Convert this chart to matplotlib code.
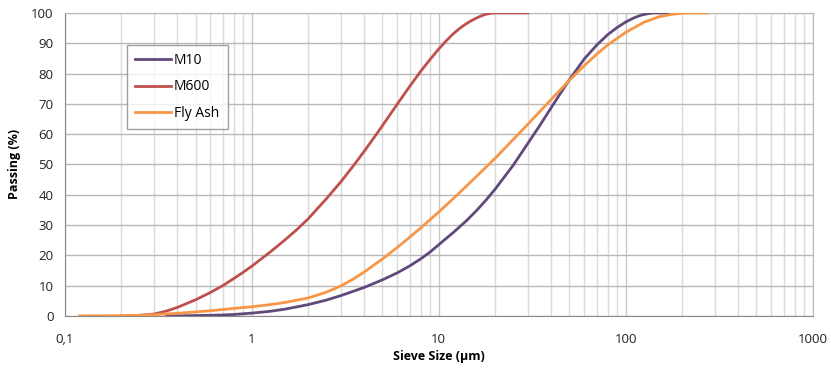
import matplotlib
matplotlib.use('Agg')
import matplotlib.pyplot as plt
from matplotlib.ticker import FixedLocator, LogLocator, NullFormatter

plt.rcParams['font.family'] = ['Open Sans', 'DejaVu Sans']

# Particle size distributions
m10_size = [0.35, 0.4, 0.5, 0.6, 0.7, 0.8, 1, 1.25, 1.5, 2, 2.5, 3, 4, 5, 6, 7, 8, 9, 10, 12, 14, 16, 18, 20,
            25, 30, 35, 40, 45, 50, 60, 70, 80, 90, 100, 110, 120, 130, 140, 175]
m10_pass = [0, 0.02, 0.1, 0.2, 0.3, 0.45, 0.9, 1.5, 2.2, 3.7, 5.2, 6.7, 9.4, 11.9, 14.2, 16.5, 18.8, 21.1, 23.5,
            27.6, 31.3, 34.9, 38.4, 41.8, 49.7, 57.0, 63.2, 68.8, 73.7, 78.0, 84.8, 89.4, 92.8, 95.2, 97.0,
            98.3, 99.2, 99.7, 100, 100]

m600_size = [0.2, 0.25, 0.3, 0.35, 0.4, 0.5, 0.6, 0.7, 0.8, 0.9, 1, 1.25, 1.5, 1.75, 2, 2.5, 3, 3.5, 4, 4.5, 5,
             6, 7, 8, 9, 10, 11, 12, 13, 14, 15, 16, 17, 18, 19, 20, 25, 30]
m600_pass = [0, 0.15, 0.6, 1.6, 2.8, 5.3, 7.7, 10.0, 12.3, 14.4, 16.4, 21.0, 25.0, 28.6, 32.0, 38.6, 44.3, 49.6,
             54.4, 58.8, 62.8, 69.9, 75.8, 80.7, 84.7, 88.1, 90.9, 93.2, 95.0, 96.4, 97.5, 98.4, 99.1, 99.6,
             99.9, 100, 100, 100]

ash_size = [0.12, 0.15, 0.2, 0.25, 0.3, 0.4, 0.5, 0.6, 0.7, 0.8, 1, 1.25, 1.5, 2, 2.5, 3, 3.5, 4, 5, 6, 7, 8,
            10, 12, 15, 20, 25, 30, 35, 40, 50, 60, 70, 80, 100, 125, 150, 175, 200, 230, 274]
ash_pass = [0, 0.02, 0.08, 0.2, 0.4, 0.85, 1.3, 1.7, 2.1, 2.45, 3.0, 3.7, 4.4, 5.9, 7.8, 9.9, 12.2, 14.5, 18.8,
            22.6, 26.0, 29.0, 34.3, 38.8, 44.5, 52.0, 58.2, 63.3, 67.7, 71.5, 77.8, 82.6, 86.4, 89.4, 93.6,
            96.9, 98.7, 99.5, 99.9, 100, 100]

x_ticks = [0.1, 1, 10, 100, 1000]
x_labels = ['0,1', '1', '10', '100', '1000']
y_ticks = list(range(0, 101, 10))

fig = plt.figure(figsize=(8.31, 3.69), dpi=100)
ax = fig.add_axes([0.078, 0.144, 0.9, 0.821])

ax.plot(m10_size, m10_pass, color='#60497B', lw=2.0, label='M10', zorder=3, solid_joinstyle='round')
ax.plot(m600_size, m600_pass, color='#C0504D', lw=2.0, label='M600', zorder=3, solid_joinstyle='round')
ax.plot(ash_size, ash_pass, color='#F79646', lw=2.0, label='Fly Ash', zorder=4, solid_joinstyle='round')

ax.set_xscale('log')
ax.set_xlim(0.1, 1000)
ax.set_ylim(0, 100)
ax.xaxis.set_major_locator(FixedLocator(x_ticks))
ax.set_xticklabels(x_labels)
ax.xaxis.set_minor_locator(LogLocator(base=10, subs=range(2, 10)))
ax.xaxis.set_minor_formatter(NullFormatter())
ax.set_yticks(y_ticks)

ax.grid(True, which='major', axis='y', color='#b8b8b8', lw=1.0)
ax.grid(True, which='major', axis='x', color='#c8c8c8', lw=1.0)
ax.grid(True, which='minor', axis='x', color='#dadada', lw=1.0)
ax.set_axisbelow(True)

for s in ax.spines.values():
    s.set_color('#b8b8b8')
ax.spines['left'].set_color('#888888')
ax.spines['bottom'].set_color('#888888')

ax.tick_params(which='both', length=0, labelsize=9.5, colors='#222222', pad=12)
ax.tick_params(axis='y', pad=8)

ax.set_xlabel('Sieve Size (µm)', fontsize=9, fontweight='bold', labelpad=3)
ax.set_ylabel('Passing (%)', fontsize=9, fontweight='bold', labelpad=7)

leg = ax.legend(loc='upper left', bbox_to_anchor=(0.083, 0.894), borderaxespad=0,
                fontsize=10, frameon=True, fancybox=False, handlelength=2.6,
                handletextpad=0.2, labelspacing=0.8, borderpad=0.6)
leg.get_frame().set_edgecolor('#888888')
leg.get_frame().set_linewidth(1.0)

fig.savefig('out.png', dpi=100)
